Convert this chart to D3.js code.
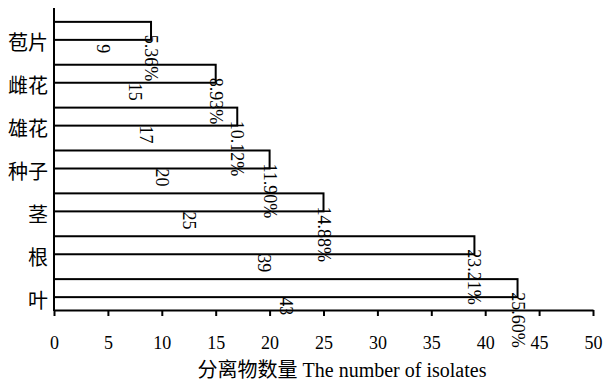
<!DOCTYPE html>
<html><head><meta charset="utf-8">
<script src="https://cdn.jsdelivr.net/npm/d3@7"></script>
<style>
html,body{margin:0;padding:0;background:#fff;}
text{font-family:"Liberation Serif","Times New Roman","Noto Sans CJK SC",serif;fill:#000;}
</style></head>
<body>
<svg id="chart" width="606" height="382"></svg>
<script>
const categories = ['苞片','雌花','雄花','种子','茎','根','叶'];
const counts = [9,15,17,20,25,39,43];
const percents = ['5.36%','8.93%','10.12%','11.90%','14.88%','23.21%','25.60%'];
const xTicks = [0,5,10,15,20,25,30,35,40,45,50];
const xTitle = '分离物数量 The number of isolates';

const svg = d3.select('#chart');
const x = d3.scaleLinear().domain([0,50]).range([54,593]);
const y = d3.scaleBand().domain(categories).range([9,310]).paddingInner(0.58).paddingOuter(0.3);

// bars
svg.append('g').selectAll('rect').data(categories).join('rect')
  .attr('x', x(0))
  .attr('y', d => y(d))
  .attr('width', (d,i) => x(counts[i]) - x(0))
  .attr('height', y.bandwidth())
  .attr('fill', '#fff')
  .attr('stroke', '#000')
  .attr('stroke-width', 2);

// x axis
const xAxis = svg.append('g').attr('transform', 'translate(0,310)')
  .call(d3.axisBottom(x).tickValues(xTicks).tickSize(6).tickPadding(20).tickSizeOuter(0));
xAxis.select('.domain').attr('stroke-width', 2);
xAxis.selectAll('.tick line').attr('stroke-width', 2);
xAxis.selectAll('.tick text').attr('font-size', 18).attr('font-family', '"Liberation Serif",serif');

// y axis line
svg.append('line').attr('x1', x(0)).attr('x2', x(0)).attr('y1', 8).attr('y2', 311)
  .attr('stroke', '#000').attr('stroke-width', 2);

// category labels
svg.append('g').selectAll('text').data(categories).join('text')
  .attr('x', 48)
  .attr('y', d => y(d) + y.bandwidth()/2 + 11)
  .attr('text-anchor', 'end')
  .attr('dominant-baseline', 'central')
  .attr('font-size', 20)
  .style('font-family', '"Noto Sans CJK SC",sans-serif')
  .text(d => d);

// count labels (rotated)
svg.append('g').selectAll('text').data(categories).join('text')
  .attr('transform', (d,i) => `translate(${x(counts[i]/2)},${y(d) + y.bandwidth()/2 + 18}) rotate(90)`)
  .attr('text-anchor', 'middle')
  .attr('dominant-baseline', 'central')
  .attr('font-size', 18)
  .text((d,i) => counts[i]);

// percent labels (rotated)
svg.append('g').selectAll('text').data(categories).join('text')
  .attr('transform', (d,i) => `translate(${x(counts[i])},${y(d) + y.bandwidth() - 5}) rotate(90)`)
  .attr('text-anchor', 'start')
  .attr('dominant-baseline', 'central')
  .attr('font-size', 18)
  .text((d,i) => percents[i]);

// x title
svg.append('text')
  .attr('x', 342).attr('y', 377)
  .attr('text-anchor', 'middle')
  .attr('font-size', 20)
  .text(xTitle);
</script>
</body></html>
